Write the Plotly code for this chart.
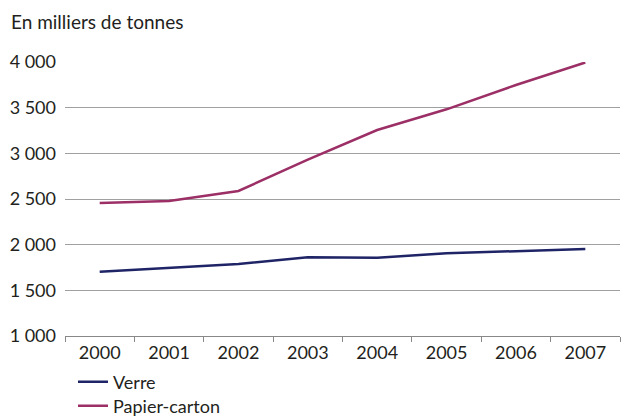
import plotly.graph_objects as go

years = ["2000", "2001", "2002", "2003", "2004", "2005", "2006", "2007"]
verre = [1704, 1748, 1788, 1862, 1857, 1905, 1931, 1953]
papier = [2456, 2478, 2588, 2930, 3255, 3482, 3748, 3995]
ytick_vals = [1000, 1500, 2000, 2500, 3000, 3500, 4000]
ytick_text = ["1 000", "1 500", "2 000", "2 500", "3 000", "3 500", "4 000"]

FONT = "Lato"
TXT = "#231f20"

fig = go.Figure()
fig.add_trace(go.Scatter(x=years, y=verre, mode="lines", name="Verre",
                         line=dict(color="#1f2466", width=2.5), legend="legend"))
fig.add_trace(go.Scatter(x=years, y=papier, mode="lines", name="Papier-carton",
                         line=dict(color="#9b2f66", width=2.5), legend="legend2"))

fig.update_layout(
    width=621, height=416,
    margin=dict(l=65, r=1, t=62, b=80, autoexpand=False),
    paper_bgcolor="white", plot_bgcolor="white",
    font=dict(family=FONT, size=18, color=TXT),
    showlegend=True,
    legend=dict(x=8 / 555, y=(416 - 382) / 416, xref="paper", yref="container",
                xanchor="left", yanchor="middle", bgcolor="rgba(0,0,0,0)",
                font=dict(family=FONT, size=18, color=TXT)),
    legend2=dict(x=8 / 555, y=(416 - 406) / 416, xref="paper", yref="container",
                 xanchor="left", yanchor="middle", bgcolor="rgba(0,0,0,0)",
                 font=dict(family=FONT, size=18, color=TXT)),
    annotations=[dict(text="En milliers de tonnes", xref="paper", yref="paper",
                      x=-56 / 555, y=1 + 40 / 274, xanchor="left", yanchor="middle",
                      showarrow=False, font=dict(family=FONT, size=19, color=TXT))],
)
fig.update_xaxes(type="category", range=[-0.5, 7.5], tickson="boundaries",
                 ticks="outside", ticklen=5, automargin=False,
                 tickcolor="#888888", showline=True, linecolor="#888888", linewidth=1,
                 showgrid=False, tickfont=dict(size=18, color=TXT))
fig.update_yaxes(range=[1000, 4000], tickvals=ytick_vals, ticktext=ytick_text,
                 automargin=False,
                 showgrid=True, gridcolor="#a0a0a0", gridwidth=1, zeroline=False,
                 ticks="", ticklabelstandoff=8, tickfont=dict(size=18, color=TXT))

fig.write_html("out.html", config={"displayModeBar": False},
               post_script="document.body.style.margin='0';document.body.style.padding='0';")
